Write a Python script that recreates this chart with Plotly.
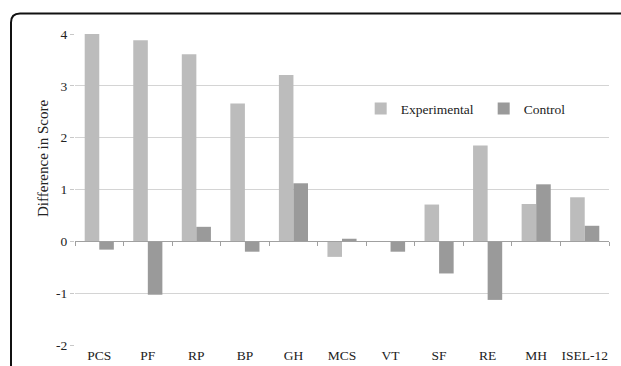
import plotly.graph_objects as go

categories = ["PCS", "PF", "RP", "BP", "GH", "MCS", "VT", "SF", "RE", "MH", "ISEL-12"]
experimental = [4.04, 3.88, 3.61, 2.66, 3.21, -0.30, 0.0, 0.71, 1.85, 0.72, 0.85]
control = [-0.16, -1.03, 0.28, -0.20, 1.12, 0.05, -0.20, -0.62, -1.13, 1.10, 0.30]
y_ticks = [-2, -1, 0, 1, 2, 3, 4]
y_tick_text = ["-2", "-1", "0", "1", "2", "3", "4"]
y_title = "Difference in Score"

FONT = "Liberation Serif, Times New Roman, serif"
FS = 13.5

fig = go.Figure()
fig.add_trace(go.Bar(x=categories, y=experimental, name="Experimental",
                     marker=dict(color="#bcbcbc", line=dict(width=0))))
fig.add_trace(go.Bar(x=categories, y=control, name="Control",
                     marker=dict(color="#9a9a9a", line=dict(width=0))))
# invisible trace to host the zero-line axis with category-boundary ticks
fig.add_trace(go.Scatter(x=[0], y=[0], xaxis="x2", mode="markers",
                         marker=dict(opacity=0), showlegend=False, hoverinfo="skip"))

W, H = 621, 366
L, R, T, B = 75, 12, 34, 21
pw = W - L - R
ph = H - T - B
bx = (11 - L) / pw
by = 1 + (T - 13.5) / ph
rx = 9 / pw
ry = 9 / ph
path = (f"M {bx},-0.5 L {bx},{by - ry} Q {bx},{by} {bx + rx},{by} L 1.2,{by}")

fig.update_layout(
    template="none",
    width=W, height=H,
    margin=dict(l=L, r=R, t=T, b=B, autoexpand=False),
    paper_bgcolor="white", plot_bgcolor="white",
    font=dict(family=FONT, size=FS, color="#222"),
    barmode="group", bargap=0.4, bargroupgap=0.0,
    showlegend=True,
    legend=dict(orientation="h", x=0.535, y=0.76, xanchor="left", yanchor="middle",
                font=dict(family=FONT, size=FS, color="#222"),
                itemwidth=30, bgcolor="rgba(0,0,0,0)", traceorder="normal",
                entrywidthmode="pixels", entrywidth=78),
    xaxis=dict(type="category", showgrid=False, zeroline=False, showline=False,
               ticks="", tickangle=0, automargin=False,
               tickfont=dict(family=FONT, size=FS, color="#222"),
               range=[-0.5, 10.5]),
    xaxis2=dict(overlaying="x", anchor="free", position=1/3, range=[-0.5, 10.5],
                showline=True, linecolor="#a0a0a0", linewidth=1,
                ticks="outside", ticklen=4, tickcolor="#a0a0a0",
                tickvals=[i - 0.5 for i in range(12)], showticklabels=False,
                showgrid=False, zeroline=False, automargin=False),
    yaxis=dict(range=[-2, 4], tickvals=y_ticks, ticktext=y_tick_text,
               showgrid=True, gridcolor="#d4d4d4",
               gridwidth=1, zeroline=False, showline=False, ticks="outside",
               ticklen=4, tickcolor="#c8c8c8", automargin=False,
               tickfont=dict(family=FONT, size=FS, color="#222")),
    annotations=[dict(text=y_title, textangle=-90, xref="paper", yref="paper",
                      x=(43 - L) / pw, y=(H - B - 158) / ph,
                      xanchor="center", yanchor="middle", showarrow=False,
                      font=dict(family=FONT, size=15, color="#222"))],
    shapes=[dict(type="path", xref="paper", yref="paper", path=path,
                 line=dict(color="#111", width=2), layer="above")],
)

fig.write_html("out.html", config={"displayModeBar": False},
               post_script="document.body.style.margin='0';document.body.style.overflow='hidden';")
